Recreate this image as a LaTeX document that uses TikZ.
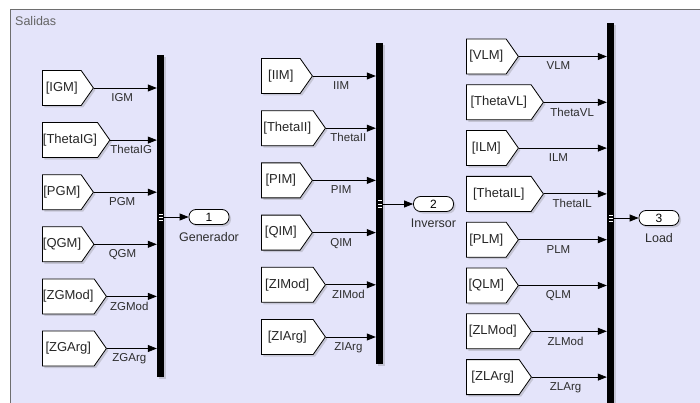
\documentclass[tikz,border=0pt]{standalone}
\usepackage{fontspec}
\setmainfont{Liberation Sans}
\usepackage{tikz}
\usetikzlibrary{positioning}
\usetikzlibrary{calc}
\usetikzlibrary{arrows.meta}
\usetikzlibrary{shapes.symbols}
\usetikzlibrary{shadows}

\definecolor{areaFill}{RGB}{228,228,250}
\definecolor{areaEdge}{RGB}{110,110,110}
\definecolor{nameGray}{RGB}{45,45,45}
\definecolor{titleGray}{RGB}{100,100,100}

\begin{document}
\begin{tikzpicture}[
	x=1pt, y=-1pt,
	fromBlock/.style={
		signal, signal to=east, signal from=nowhere,
		signal pointer angle=110,
		draw, fill=white, line width=0.8pt,
		minimum height=35pt, inner sep=0.5pt,
		font=\fontsize{13}{15}\selectfont, text=black!85,
		drop shadow={shadow xshift=2pt, shadow yshift=-2pt, opacity=0.3}
	},
	busBar/.style={
		fill=black, minimum width=7pt, inner sep=0pt,
		drop shadow={shadow xshift=2pt, shadow yshift=-2pt, opacity=0.3}
	},
	outPort/.style={
		draw, fill=white, line width=0.8pt,
		rounded corners=7pt,
		minimum width=40pt, minimum height=15pt, inner sep=0pt,
		font=\fontsize{12}{14}\selectfont,
		drop shadow={shadow xshift=2pt, shadow yshift=-2pt, opacity=0.3}
	},
	portName/.style={text=nameGray, inner sep=0pt, font=\fontsize{12.5}{14}\selectfont},
	sig/.style={-{Triangle[length=9pt,width=7pt]}, line width=0.8pt},
	sigName/.style={text=nameGray, inner sep=0pt, below=5pt, pos=0.45,
		font=\fontsize{11.5}{13}\selectfont}
]

	% area
	\useasboundingbox (0,0) rectangle (700,403);
	\fill[white] (0,0) rectangle (700,403);
	\draw[areaEdge, fill=areaFill, line width=1pt] (10,10) rectangle (720,420);
	\node[anchor=base west, inner sep=0pt, text=titleGray,
		font=\fontsize{12.5}{14}\selectfont] (areaTitle) at (15,26) {Salidas};

	% generador
	\node[fromBlock, minimum width=51pt, anchor=west] (igmFrom) at (42,88) {[IGM]};
	\node[fromBlock, minimum width=64pt, below=16.3pt of igmFrom.south west, anchor=north west] (thetaIGFrom) {[ThetaIG]};
	\node[fromBlock, minimum width=51pt, below=16.3pt of thetaIGFrom.south west, anchor=north west] (pgmFrom) {[PGM]};
	\node[fromBlock, minimum width=51pt, below=16.3pt of pgmFrom.south west, anchor=north west] (qgmFrom) {[QGM]};
	\node[fromBlock, minimum width=64pt, below=16.3pt of qgmFrom.south west, anchor=north west] (zgModFrom) {[ZGMod]};
	\node[fromBlock, minimum width=64pt, below=16.3pt of zgModFrom.south west, anchor=north west] (zgArgFrom) {[ZGArg]};

	\node[busBar, minimum height=322pt] (genBus) at (160.5,216) {};
	\node[outPort] (genOut) at (209,217) {1};
	\node[portName, below=7pt of genOut] (genName) {Generador};

	\draw[sig] (igmFrom.east) -- (igmFrom.east -| genBus.west) node[sigName] {IGM};
	\draw[sig] (thetaIGFrom.east) -- (thetaIGFrom.east -| genBus.west) node[sigName] {ThetaIG};
	\draw[sig] (pgmFrom.east) -- (pgmFrom.east -| genBus.west) node[sigName] {PGM};
	\draw[sig] (qgmFrom.east) -- (qgmFrom.east -| genBus.west) node[sigName] {QGM};
	\draw[sig] (zgModFrom.east) -- (zgModFrom.east -| genBus.west) node[sigName] {ZGMod};
	\draw[sig] (zgArgFrom.east) -- (zgArgFrom.east -| genBus.west) node[sigName] {ZGArg};
	\draw[sig] (genBus.east |- genOut.west) -- (genOut.west);
	\foreach \d in {-3,0,3}
		\draw[white, line width=1pt] ($(genBus.east |- genOut.west)+(-5,\d)$) -- ++(4,0);

	% inversor
	\node[fromBlock, minimum width=51pt, anchor=west] (iimFrom) at (261,76) {[IIM]};
	\node[fromBlock, minimum width=64pt, below=16.4pt of iimFrom.south west, anchor=north west] (thetaIIFrom) {[ThetaII]};
	\node[fromBlock, minimum width=51pt, below=16.4pt of thetaIIFrom.south west, anchor=north west] (pimFrom) {[PIM]};
	\node[fromBlock, minimum width=51pt, below=16.4pt of pimFrom.south west, anchor=north west] (qimFrom) {[QIM]};
	\node[fromBlock, minimum width=64pt, below=16.4pt of qimFrom.south west, anchor=north west] (ziModFrom) {[ZIMod]};
	\node[fromBlock, minimum width=64pt, below=16.4pt of ziModFrom.south west, anchor=north west] (ziArgFrom) {[ZIArg]};

	\node[busBar, minimum height=321pt] (invBus) at (379.5,203.5) {};
	\node[outPort] (invOut) at (433.5,204) {2};
	\node[portName, below=7pt of invOut] (invName) {Inversor};

	\draw[sig] (iimFrom.east) -- (iimFrom.east -| invBus.west) node[sigName] {IIM};
	\draw[sig] (thetaIIFrom.east) -- (thetaIIFrom.east -| invBus.west) node[sigName] {ThetaII};
	\draw[sig] (pimFrom.east) -- (pimFrom.east -| invBus.west) node[sigName] {PIM};
	\draw[sig] (qimFrom.east) -- (qimFrom.east -| invBus.west) node[sigName] {QIM};
	\draw[sig] (ziModFrom.east) -- (ziModFrom.east -| invBus.west) node[sigName] {ZIMod};
	\draw[sig] (ziArgFrom.east) -- (ziArgFrom.east -| invBus.west) node[sigName] {ZIArg};
	\draw[sig] (invBus.east |- invOut.west) -- (invOut.west);
	\foreach \d in {-3,0,3}
		\draw[white, line width=1pt] ($(invBus.east |- invOut.west)+(-5,\d)$) -- ++(4,0);

	% load
	\node[fromBlock, minimum width=52pt, anchor=west] (vlmFrom) at (466,56.5) {[VLM]};
	\node[fromBlock, minimum width=77pt, below=10pt of vlmFrom.south west, anchor=north west] (thetaVLFrom) {[ThetaVL]};
	\node[fromBlock, minimum width=52pt, below=10pt of thetaVLFrom.south west, anchor=north west] (ilmFrom) {[ILM]};
	\node[fromBlock, minimum width=77pt, below=10pt of ilmFrom.south west, anchor=north west] (thetaILFrom) {[ThetaIL]};
	\node[fromBlock, minimum width=52pt, below=10pt of thetaILFrom.south west, anchor=north west] (plmFrom) {[PLM]};
	\node[fromBlock, minimum width=52pt, below=10pt of plmFrom.south west, anchor=north west] (qlmFrom) {[QLM]};
	\node[fromBlock, minimum width=65pt, below=10pt of qlmFrom.south west, anchor=north west] (zlModFrom) {[ZLMod]};
	\node[fromBlock, minimum width=65pt, below=10pt of zlModFrom.south west, anchor=north west] (zlArgFrom) {[ZLArg]};

	\node[busBar, minimum height=390pt] (loadBus) at (610.5,218) {};
	\node[outPort] (loadOut) at (659,218) {3};
	\node[portName, below=7pt of loadOut] (loadName) {Load};

	\draw[sig] (vlmFrom.east) -- (vlmFrom.east -| loadBus.west) node[sigName] {VLM};
	\draw[sig] (thetaVLFrom.east) -- (thetaVLFrom.east -| loadBus.west) node[sigName] {ThetaVL};
	\draw[sig] (ilmFrom.east) -- (ilmFrom.east -| loadBus.west) node[sigName] {ILM};
	\draw[sig] (thetaILFrom.east) -- (thetaILFrom.east -| loadBus.west) node[sigName] {ThetaIL};
	\draw[sig] (plmFrom.east) -- (plmFrom.east -| loadBus.west) node[sigName] {PLM};
	\draw[sig] (qlmFrom.east) -- (qlmFrom.east -| loadBus.west) node[sigName] {QLM};
	\draw[sig] (zlModFrom.east) -- (zlModFrom.east -| loadBus.west) node[sigName] {ZLMod};
	\draw[sig] (zlArgFrom.east) -- (zlArgFrom.east -| loadBus.west) node[sigName] {ZLArg};
	\draw[sig] (loadBus.east |- loadOut.west) -- (loadOut.west);
	\foreach \d in {-3,0,3}
		\draw[white, line width=1pt] ($(loadBus.east |- loadOut.west)+(-5,\d)$) -- ++(4,0);

\end{tikzpicture}
\end{document}
